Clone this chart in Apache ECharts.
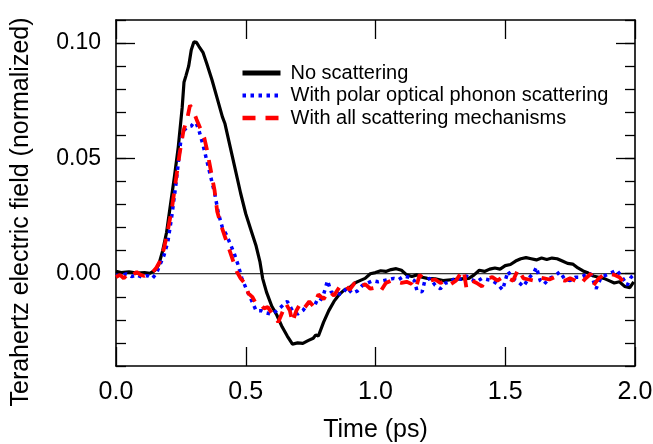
<!DOCTYPE html>
<html>
<head>
<meta charset="utf-8">
<script src="https://cdn.jsdelivr.net/npm/echarts@6/dist/echarts.min.js"></script>
<style>
html,body{margin:0;padding:0;background:#fff;}
#chart{width:653px;height:444px;}
</style>
</head>
<body>
<div id="chart"></div>
<script>
// ---- Data ----
const seriesNames = ['No scattering', 'With polar optical phonon scattering', 'With all scattering mechanisms'];
const xTickLabels = ['0.0', '0.5', '1.0', '1.5', '2.0'];
const yTickLabels = ['0.00', '0.05', '0.10'];

const noScatT = [0.00,0.02,0.05,0.08,0.11,0.13,0.15,0.165,0.18,0.195,0.21,0.225,0.24,0.255,0.262,0.27,0.28,0.29,0.30,0.31,0.32,0.335,0.35,0.37,0.39,0.41,0.42,0.44,0.46,0.48,0.50,0.52,0.54,0.555,0.565,0.58,0.60,0.62,0.64,0.66,0.68,0.70,0.72,0.74,0.76,0.77,0.78,0.80,0.82,0.84,0.86,0.88,0.90,0.92,0.94,0.96,0.98,1.00,1.02,1.04,1.06,1.08,1.10,1.12,1.14,1.16,1.18,1.20,1.23,1.26,1.30,1.33,1.36,1.38,1.40,1.42,1.44,1.46,1.48,1.50,1.52,1.54,1.56,1.58,1.60,1.62,1.64,1.66,1.68,1.70,1.72,1.74,1.76,1.78,1.80,1.82,1.84,1.86,1.88,1.90,1.92,1.94,1.96,1.98,1.995];
const noScatV = [0.001,0.0005,0.0008,0.0003,0.0005,0.0002,0.0015,0.004,0.010,0.018,0.030,0.042,0.055,0.072,0.083,0.086,0.090,0.097,0.1005,0.1003,0.0985,0.096,0.091,0.084,0.076,0.068,0.065,0.055,0.045,0.035,0.026,0.019,0.012,0.005,-0.002,-0.008,-0.014,-0.018,-0.023,-0.027,-0.0305,-0.0300,-0.0302,-0.029,-0.028,-0.0265,-0.027,-0.021,-0.016,-0.012,-0.009,-0.007,-0.006,-0.004,-0.003,-0.002,0.000,0.0005,0.0013,0.001,0.0018,0.0022,0.0015,-0.0005,-0.0012,-0.0005,-0.0015,-0.002,-0.0022,-0.003,-0.0025,-0.0022,-0.002,-0.0005,0.0015,0.001,0.002,0.0025,0.002,0.0035,0.004,0.0055,0.0065,0.007,0.0065,0.006,0.0068,0.0062,0.0068,0.0065,0.0055,0.0045,0.0042,0.0025,0.0012,0.0003,-0.001,-0.0015,-0.002,-0.003,-0.004,-0.0035,-0.0055,-0.006,-0.0035];

const polarT = [0.00,0.02,0.04,0.06,0.08,0.10,0.12,0.14,0.155,0.17,0.185,0.20,0.215,0.23,0.24,0.25,0.26,0.275,0.29,0.30,0.31,0.32,0.335,0.35,0.365,0.38,0.395,0.41,0.425,0.44,0.455,0.47,0.485,0.50,0.52,0.54,0.56,0.58,0.60,0.62,0.64,0.66,0.68,0.70,0.72,0.74,0.76,0.78,0.80,0.815,0.83,0.85,0.87,0.89,0.91,0.93,0.95,0.97,0.99,1.01,1.03,1.05,1.07,1.09,1.11,1.13,1.15,1.16,1.18,1.19,1.21,1.23,1.25,1.27,1.29,1.31,1.33,1.35,1.37,1.39,1.41,1.43,1.45,1.47,1.49,1.50,1.51,1.53,1.55,1.57,1.59,1.61,1.62,1.635,1.65,1.67,1.69,1.71,1.73,1.75,1.77,1.79,1.81,1.83,1.85,1.87,1.89,1.91,1.93,1.95,1.97,1.985,1.995];
const polarV = [-0.0005,-0.001,0.0,-0.0012,-0.0005,-0.0015,-0.0008,-0.002,0.0,0.004,0.008,0.014,0.025,0.038,0.048,0.058,0.062,0.0635,0.064,0.0655,0.065,0.062,0.056,0.049,0.042,0.035,0.026,0.020,0.017,0.013,0.009,0.004,-0.002,-0.006,-0.011,-0.016,-0.016,-0.017,-0.0175,-0.016,-0.014,-0.012,-0.016,-0.0175,-0.016,-0.013,-0.012,-0.013,-0.009,-0.003,-0.008,-0.0085,-0.009,-0.006,-0.0085,-0.0075,-0.005,-0.004,-0.003,-0.0035,-0.003,-0.0025,-0.002,-0.0025,-0.001,-0.0015,-0.003,-0.0075,-0.0078,-0.003,-0.002,-0.005,-0.0065,-0.004,-0.0035,-0.0015,-0.0025,-0.001,-0.0025,-0.0035,-0.002,-0.0025,-0.003,-0.0045,-0.007,-0.003,0.001,-0.002,-0.0035,-0.0055,-0.002,0.0005,0.0028,-0.003,-0.0045,-0.002,-0.001,0.0008,-0.0025,-0.003,-0.0015,-0.0015,-0.0005,0.0,-0.0065,-0.0015,-0.0005,0.0005,0.0015,-0.0015,-0.005,-0.0015,-0.0005];

const allScatT = [0.00,0.015,0.03,0.05,0.065,0.08,0.095,0.11,0.125,0.14,0.155,0.17,0.185,0.20,0.215,0.23,0.245,0.26,0.275,0.285,0.295,0.31,0.325,0.34,0.35,0.365,0.38,0.39,0.405,0.42,0.435,0.45,0.465,0.48,0.495,0.51,0.525,0.54,0.555,0.57,0.585,0.60,0.615,0.625,0.64,0.655,0.67,0.68,0.695,0.71,0.725,0.745,0.76,0.78,0.80,0.82,0.84,0.86,0.88,0.90,0.92,0.94,0.96,0.98,1.00,1.02,1.04,1.06,1.08,1.10,1.12,1.14,1.155,1.17,1.19,1.21,1.23,1.25,1.27,1.29,1.31,1.33,1.34,1.35,1.37,1.39,1.41,1.43,1.45,1.47,1.49,1.51,1.53,1.55,1.57,1.59,1.61,1.63,1.65,1.67,1.69,1.71,1.73,1.75,1.77,1.79,1.81,1.83,1.84,1.86,1.88,1.90,1.92,1.94,1.96,1.975];
const allScatV = [-0.0015,-0.0005,-0.002,0.0005,-0.0005,0.0008,-0.0005,-0.001,0.0005,0.0005,0.0025,0.0055,0.011,0.019,0.028,0.040,0.052,0.062,0.0675,0.073,0.0715,0.067,0.063,0.059,0.054,0.045,0.036,0.027,0.021,0.016,0.011,0.006,0.001,-0.002,-0.004,-0.0085,-0.010,-0.013,-0.013,-0.015,-0.0145,-0.017,-0.019,-0.021,-0.017,-0.013,-0.016,-0.021,-0.016,-0.013,-0.015,-0.012,-0.014,-0.009,-0.011,-0.0075,-0.0095,-0.006,-0.0045,-0.007,-0.004,-0.006,-0.0045,-0.0065,-0.006,-0.0075,-0.004,-0.003,-0.0035,-0.004,-0.0035,-0.0045,-0.0065,-0.0005,-0.0025,-0.003,-0.0025,-0.004,-0.003,-0.0045,-0.003,0.0005,0.0015,-0.006,-0.003,-0.004,-0.0055,-0.002,-0.0015,-0.003,-0.0015,-0.002,-0.003,0.002,-0.002,-0.0025,-0.003,-0.0015,-0.002,-0.0025,-0.0015,-0.0025,-0.003,-0.002,-0.003,-0.0045,-0.002,0.0,-0.005,-0.002,-0.0005,0.0,-0.0005,-0.0015,-0.004,-0.0025];

// ---- Build chart ----
function zip(t, v) { return t.map((x, i) => [x, v[i]]); }
const FONT = 'Liberation Sans, Arial, Helvetica, sans-serif';
const Y_MIN = -0.04, Y_MAX = 0.11;

const chart = echarts.init(document.getElementById('chart'), null, {renderer: 'canvas'});
function boxLine() { return {show: true, onZero: false, lineStyle: {color: '#000', width: 1.6}}; }
function noLine() { return {show: false, onZero: false}; }
function tick(len, custom) {
  const t = {show: true, inside: true, length: len, lineStyle: {color: '#000', width: 1.3}};
  if (custom) t.customValues = custom;
  return t;
}

const option = {
  animation: false,
  backgroundColor: '#fff',
  grid: {left: 116, right: 18, top: 20, bottom: 78, containLabel: false, outerBoundsMode: 'none'},
  legend: {
    data: [
      {name: seriesNames[0], lineStyle: {width: 5}},
      {name: seriesNames[1], lineStyle: {width: 4}},
      {name: seriesNames[2], lineStyle: {width: 4.5}}
    ],
    orient: 'vertical',
    left: 235, top: 58,
    itemWidth: 38, itemHeight: 14, itemGap: 2.5,
    itemStyle: {opacity: 0},
    textStyle: {fontFamily: FONT, fontSize: 20, color: '#000', lineHeight: 20, padding: [0, 0, 0, 5]},
    selectedMode: false
  },
  xAxis: [
    {
      type: 'value', position: 'bottom', min: 0, max: 2, interval: 0.5,
      axisLine: boxLine(), axisTick: tick(19),
      axisLabel: {show: true, margin: 14, fontFamily: FONT, fontSize: 25, color: '#000',
        formatter: v => xTickLabels[Math.round(v / 0.5)]},
      splitLine: {show: false},
      name: 'Time (ps)', nameLocation: 'middle', nameGap: 52,
      nameTextStyle: {fontFamily: FONT, fontSize: 25, color: '#000'}
    },
    {
      type: 'value', position: 'top', min: 0, max: 2, interval: 0.5,
      axisLine: boxLine(), axisTick: tick(19),
      axisLabel: {show: false}, splitLine: {show: false}
    }
  ],
  yAxis: [
    {
      type: 'value', position: 'left', min: Y_MIN, max: Y_MAX, interval: 0.01,
      axisLine: boxLine(), axisTick: tick(10),
      axisLabel: {show: true, margin: 15, fontFamily: FONT, fontSize: 23, color: '#000',
        formatter: v => {
          const k = Math.round(v * 100);
          if (k >= 0 && k % 5 === 0) return yTickLabels[k / 5];
          return '';
        }},
      splitLine: {show: false}
    },
    {
      type: 'value', position: 'left', min: Y_MIN, max: Y_MAX,
      axisLine: noLine(), axisTick: tick(19, [0, 0.05, 0.10]),
      axisLabel: {show: false}, splitLine: {show: false}
    },
    {
      type: 'value', position: 'right', min: Y_MIN, max: Y_MAX, interval: 0.01,
      axisLine: boxLine(), axisTick: tick(10),
      axisLabel: {show: false}, splitLine: {show: false}
    },
    {
      type: 'value', position: 'right', min: Y_MIN, max: Y_MAX,
      axisLine: noLine(), axisTick: tick(19, [0, 0.05, 0.10]),
      axisLabel: {show: false}, splitLine: {show: false}
    }
  ],
  graphic: [{
    type: 'text', x: 21, y: 212, rotation: Math.PI / 2,
    style: {text: 'Terahertz electric field (normalized)', font: '25px ' + FONT, fill: '#000',
      align: 'center', verticalAlign: 'middle', textAlign: 'center', textVerticalAlign: 'middle'}
  }],
  series: [
    {
      name: 'zero', type: 'line', data: [[0, 0], [2, 0]], symbol: 'none', silent: true,
      lineStyle: {color: '#000', width: 1}, z: 1
    },
    {
      name: seriesNames[0], type: 'line', data: zip(noScatT, noScatV), symbol: 'none', smooth: false,
      lineStyle: {color: '#000', width: 3.2}, itemStyle: {color: '#000'}, z: 2
    },
    {
      name: seriesNames[1], type: 'line', data: zip(polarT, polarV), symbol: 'none',
      lineStyle: {color: '#0000ff', width: 3.5, type: [3.5, 4.5]}, itemStyle: {color: '#0000ff'}, z: 3
    },
    {
      name: seriesNames[2], type: 'line', data: zip(allScatT, allScatV), symbol: 'none',
      lineStyle: {color: '#ff0000', width: 3.8, type: [13, 10]}, itemStyle: {color: '#ff0000'}, z: 4
    }
  ]
};
chart.setOption(option);
</script>
</body>
</html>
